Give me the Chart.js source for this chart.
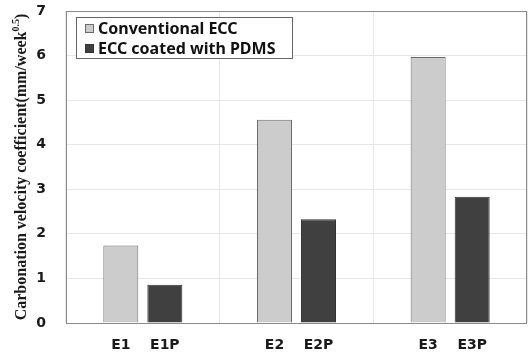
<!DOCTYPE html>
<html>
<head>
<meta charset="utf-8">
<script src="https://cdn.jsdelivr.net/npm/chart.js@4"></script>
<style>
  html, body { margin: 0; padding: 0; background: #fff; }
  #wrap { width: 530px; height: 355px; }
</style>
</head>
<body>
<div id="wrap"><canvas id="carbChart" width="530" height="355"></canvas></div>
<script>
const groups = ['E1', 'E2', 'E3'];
const conventionalLabels = ['E1', 'E2', 'E3'];
const coatedLabels = ['E1P', 'E2P', 'E3P'];
const conventionalValues = [1.74, 4.56, 5.97];
const coatedValues = [0.86, 2.33, 2.83];
const yTicks = [0, 1, 2, 3, 4, 5, 6, 7];

const axisTitle = 'Carbonation velocity coefficient(mm/week';
const axisTitleSup = '0.5';

// labels under each bar, frame, custom boxed legend, rotated title
const decorPlugin = {
  id: 'decor',
  afterDatasetsDraw(chart) {
    const { ctx, chartArea } = chart;
    ctx.save();
    ctx.strokeStyle = '#8a8a8a';
    ctx.lineWidth = 1;
    ctx.strokeRect(chartArea.left + 0.5, chartArea.top + 0.5,
      chartArea.right - chartArea.left - 1, chartArea.bottom - chartArea.top);

    // bar labels
    ctx.fillStyle = '#1a1a1a';
    ctx.font = 'bold 14px "DejaVu Sans", sans-serif';
    ctx.textAlign = 'center';
    ctx.textBaseline = 'middle';
    const sets = [conventionalLabels, coatedLabels];
    sets.forEach((names, di) => {
      chart.getDatasetMeta(di).data.forEach((bar, i) => {
        ctx.fillText(names[i], bar.x, 345);
      });
    });

    // legend box
    const lx = 76, ly = 17, lw = 216, lh = 41;
    ctx.fillStyle = '#fff';
    ctx.fillRect(lx, ly, lw, lh);
    ctx.strokeStyle = '#666';
    ctx.strokeRect(lx + 0.5, ly + 0.5, lw, lh);
    ctx.textAlign = 'left';
    ctx.font = 'bold 16px "Noto Sans", sans-serif';
    chart.data.datasets.forEach((ds, i) => {
      const cy = 29 + i * 20;
      ctx.fillStyle = ds.backgroundColor;
      ctx.fillRect(85, cy - 5, 9, 9);
      ctx.strokeStyle = ds.borderColor;
      ctx.strokeRect(85.5, cy - 4.5, 8, 8);
      ctx.fillStyle = '#111';
      ctx.fillText(ds.label, 98, cy);
    });

    // y-axis title with superscript
    ctx.translate(21, (chartArea.top + chartArea.bottom) / 2);
    ctx.rotate(-Math.PI / 2);
    ctx.fillStyle = '#1a1a1a';
    const mainFont = 'bold 16px "Liberation Serif", serif';
    const supFont = 'bold 10px "Liberation Serif", serif';
    ctx.font = mainFont;
    const w1 = ctx.measureText(axisTitle).width;
    ctx.font = supFont;
    const w2 = ctx.measureText(axisTitleSup).width;
    ctx.font = mainFont;
    const w3 = ctx.measureText(')').width;
    let x = -(w1 + w2 + w3) / 2;
    ctx.textBaseline = 'alphabetic';
    ctx.fillText(axisTitle, x, 5);
    x += w1;
    ctx.font = supFont;
    ctx.fillText(axisTitleSup, x, -2);
    x += w2;
    ctx.font = mainFont;
    ctx.fillText(')', x, 5);
    ctx.restore();
  },
};

new Chart(document.getElementById('carbChart'), {
  type: 'bar',
  data: {
    labels: groups,
    datasets: [
      {
        label: 'Conventional ECC',
        data: conventionalValues,
        backgroundColor: '#cccccc',
        borderColor: '#6a6a6a',
        borderWidth: 1,
        categoryPercentage: 0.573,
        barPercentage: 0.795,
      },
      {
        label: 'ECC coated with PDMS',
        data: coatedValues,
        backgroundColor: '#404040',
        borderColor: '#333333',
        borderWidth: 1,
        categoryPercentage: 0.573,
        barPercentage: 0.795,
      },
    ],
  },
  options: {
    responsive: false,
    animation: false,
    layout: { padding: { top: 11, right: 3, left: 0, bottom: 0 } },
    plugins: {
      legend: { display: false },
      tooltip: { enabled: false },
    },
    scales: {
      x: {
        grid: { offset: true, color: '#e6e6e6', drawTicks: false },
        border: { display: false },
        ticks: { display: false },
        afterFit: (scale) => { scale.height = 32; },
      },
      y: {
        min: 0,
        max: 7,
        afterBuildTicks: (scale) => { scale.ticks = yTicks.map((v) => ({ value: v })); },
        grid: { color: '#e6e6e6', drawTicks: false },
        border: { display: false },
        ticks: {
          padding: 20,
          color: '#1a1a1a',
          font: { family: '"DejaVu Sans", sans-serif', weight: 'bold', size: 14 },
        },
        afterFit: (scale) => {
          scale.width = 66;
          scale.paddingTop = 0;
          scale.paddingBottom = 0;
        },
      },
    },
  },
  plugins: [decorPlugin],
});
</script>
</body>
</html>
